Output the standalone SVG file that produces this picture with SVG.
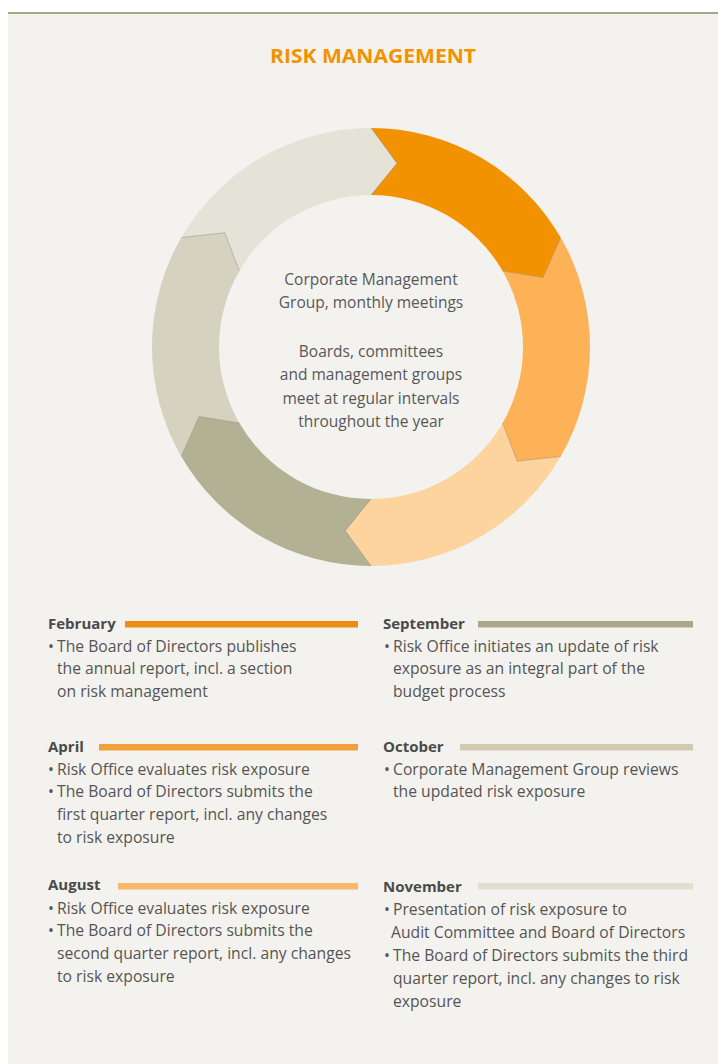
<svg xmlns="http://www.w3.org/2000/svg" width="718" height="1064" viewBox="0 0 718 1064">
  <style>
    .title { font-family: "Open Sans", "Liberation Sans", sans-serif; font-weight: 700; font-size: 19px; fill: #F39200; }
    .center { font-family: "Open Sans", "Liberation Sans", sans-serif; font-size: 15.5px; fill: #585858; text-anchor: middle; }
    .month { font-family: "Open Sans", "Liberation Sans", sans-serif; font-weight: 700; font-size: 15px; fill: #4a4a4a; }
    .body { font-family: "Open Sans", "Liberation Sans", sans-serif; font-size: 15.7px; fill: #555555; }
    .tip { fill: none; stroke: #6e6650; stroke-opacity: 0.35; stroke-width: 1; stroke-linejoin: miter; }
  </style>

  <!-- page and panel -->
  <rect x="0" y="0" width="718" height="1064" fill="#ffffff"/>
  <rect x="8" y="13" width="710" height="1051" fill="#F3F2EE"/>
  <rect x="8" y="12" width="710" height="2" fill="#A8A487"/>

  <text class="title" x="373" y="63" text-anchor="middle" textLength="206" lengthAdjust="spacingAndGlyphs">RISK MANAGEMENT</text>

  <!-- annual cycle ring: six arrow segments, clockwise -->
  <g id="cycle">
    <g id="seg-february">
      <path d="M371,128 A219,219 0 0 1 560.66,237.5 L543.0,277.51 L502.64,271 A152,152 0 0 0 371,195 L396.82,163.3 Z" fill="#F39200"/>
    </g>
    <g id="seg-april">
      <path d="M560.66,237.5 A219,219 0 0 1 560.66,456.5 L517.17,461.21 L502.64,423 A152,152 0 0 0 502.64,271 L543.0,277.51 Z" fill="#FEB257"/>
    </g>
    <g id="seg-august">
      <path d="M560.66,456.5 A219,219 0 0 1 371,566 L345.18,530.7 L371,499 A152,152 0 0 0 502.64,423 L517.17,461.21 Z" fill="#FDD39E"/>
    </g>
    <g id="seg-september">
      <path d="M371,566 A219,219 0 0 1 181.34,456.5 L199.0,416.49 L239.36,423 A152,152 0 0 0 371,499 L345.18,530.7 Z" fill="#B3B193"/>
    </g>
    <g id="seg-october">
      <path d="M181.34,456.5 A219,219 0 0 1 181.34,237.5 L224.83,232.79 L239.36,271 A152,152 0 0 0 239.36,423 L199.0,416.49 Z" fill="#D5D2BF"/>
    </g>
    <g id="seg-november">
      <path d="M181.34,237.5 A219,219 0 0 1 371,128 L396.82,163.3 L371,195 A152,152 0 0 0 239.36,271 L224.83,232.79 Z" fill="#E5E3D7"/>
    </g>
    <!-- fine shading along each arrow tip -->
    <g id="tips">
      <polyline class="tip" points="560.66,237.5 543.0,277.51 502.64,271"/>
      <polyline class="tip" points="560.66,456.5 517.17,461.21 502.64,423"/>
      <polyline class="tip" points="371,566 345.18,530.7 371,499"/>
      <polyline class="tip" points="181.34,456.5 199.0,416.49 239.36,423"/>
      <polyline class="tip" points="181.34,237.5 224.83,232.79 239.36,271"/>
      <polyline class="tip" points="371,128 396.82,163.3 371,195"/>
    </g>
  </g>

  <g id="hub">
    <text class="center" x="371" y="285">Corporate Management</text>
    <text class="center" x="371" y="308">Group, monthly meetings</text>
    <text class="center" x="371" y="357">Boards, committees</text>
    <text class="center" x="371" y="380">and management groups</text>
    <text class="center" x="371" y="404">meet at regular intervals</text>
    <text class="center" x="371" y="427">throughout the year</text>
  </g>

  <!-- month notes, left column -->
  <g id="february">
    <text class="month" x="48" y="629">February</text>
    <rect x="125" y="621" width="233" height="6.5" fill="#E98E12"/>
    <text class="body" x="48" y="652">•</text>
    <text class="body" x="57" y="652">The Board of Directors publishes</text>
    <text class="body" x="57" y="674">the annual report, incl. a section</text>
    <text class="body" x="57" y="697">on risk management</text>
  </g>
  <g id="april">
    <text class="month" x="48" y="752">April</text>
    <rect x="99" y="744" width="259" height="6.5" fill="#F0A13C"/>
    <text class="body" x="48" y="775">•</text>
    <text class="body" x="57" y="775">Risk Office evaluates risk exposure</text>
    <text class="body" x="48" y="797">•</text>
    <text class="body" x="57" y="797">The Board of Directors submits the</text>
    <text class="body" x="57" y="820">first quarter report, incl. any changes</text>
    <text class="body" x="57" y="843">to risk exposure</text>
  </g>
  <g id="august">
    <text class="month" x="48" y="890">August</text>
    <rect x="118" y="883" width="240" height="6.5" fill="#F7B86A"/>
    <text class="body" x="48" y="914">•</text>
    <text class="body" x="57" y="914">Risk Office evaluates risk exposure</text>
    <text class="body" x="48" y="936">•</text>
    <text class="body" x="57" y="936">The Board of Directors submits the</text>
    <text class="body" x="57" y="959">second quarter report, incl. any changes</text>
    <text class="body" x="57" y="982">to risk exposure</text>
  </g>

  <!-- month notes, right column -->
  <g id="september">
    <text class="month" x="383" y="629">September</text>
    <rect x="478" y="621" width="215" height="6.5" fill="#ABA78A"/>
    <text class="body" x="384" y="652">•</text>
    <text class="body" x="393" y="652">Risk Office initiates an update of risk</text>
    <text class="body" x="393" y="674">exposure as an integral part of the</text>
    <text class="body" x="393" y="697">budget process</text>
  </g>
  <g id="october">
    <text class="month" x="383" y="752">October</text>
    <rect x="460" y="744" width="233" height="6.5" fill="#D1CAB2"/>
    <text class="body" x="384" y="775">•</text>
    <text class="body" x="393" y="775">Corporate Management Group reviews</text>
    <text class="body" x="393" y="797">the updated risk exposure</text>
  </g>
  <g id="november">
    <text class="month" x="383" y="892">November</text>
    <rect x="478" y="883" width="215" height="6.5" fill="#E3DECF"/>
    <text class="body" x="384" y="915">•</text>
    <text class="body" x="393" y="915">Presentation of risk exposure to</text>
    <text class="body" x="391" y="938">Audit Committee and Board of Directors</text>
    <text class="body" x="384" y="961">•</text>
    <text class="body" x="393" y="961">The Board of Directors submits the third</text>
    <text class="body" x="393" y="984">quarter report, incl. any changes to risk</text>
    <text class="body" x="393" y="1007">exposure</text>
  </g>
</svg>
